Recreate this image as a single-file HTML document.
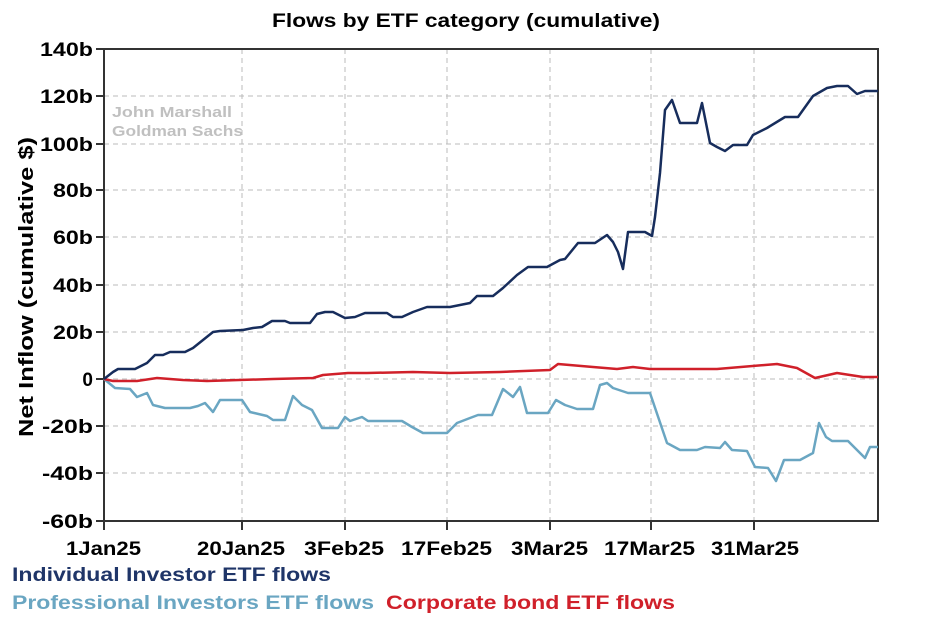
<!DOCTYPE html>
<html><head><meta charset="utf-8"><style>
body{margin:0;background:#fff;}
svg{display:block;font-family:"Liberation Sans",Arial,sans-serif;}
</style></head><body>
<svg width="934" height="623" viewBox="0 0 934 623">
<rect width="934" height="623" fill="#fff"/>
<text x="272" y="27" font-size="19" font-weight="bold" textLength="388" lengthAdjust="spacingAndGlyphs">Flows by ETF category (cumulative)</text>
<g stroke="#bbb" stroke-width="1" stroke-dasharray="5,4">
<line x1="104" x2="878" y1="96" y2="96"/><line x1="104" x2="878" y1="144" y2="144"/>
<line x1="104" x2="878" y1="190" y2="190"/><line x1="104" x2="878" y1="237" y2="237"/>
<line x1="104" x2="878" y1="285" y2="285"/><line x1="104" x2="878" y1="332" y2="332"/>
<line x1="104" x2="878" y1="379" y2="379"/><line x1="104" x2="878" y1="426" y2="426"/>
<line x1="104" x2="878" y1="473" y2="473"/>
<line x1="242" x2="242" y1="49" y2="521"/><line x1="345" x2="345" y1="49" y2="521"/>
<line x1="447" x2="447" y1="49" y2="521"/><line x1="550" x2="550" y1="49" y2="521"/>
<line x1="651" x2="651" y1="49" y2="521"/><line x1="754" x2="754" y1="49" y2="521"/>
</g>
<rect x="104" y="49" width="774" height="472" fill="none" stroke="#333" stroke-width="2"/>
<g stroke="#333" stroke-width="2">
<line x1="96" x2="104" y1="49" y2="49"/><line x1="96" x2="104" y1="96" y2="96"/><line x1="96" x2="104" y1="144" y2="144"/><line x1="96" x2="104" y1="190" y2="190"/><line x1="96" x2="104" y1="237" y2="237"/><line x1="96" x2="104" y1="285" y2="285"/><line x1="96" x2="104" y1="332" y2="332"/><line x1="96" x2="104" y1="379" y2="379"/><line x1="96" x2="104" y1="426" y2="426"/><line x1="96" x2="104" y1="473" y2="473"/><line x1="96" x2="104" y1="521" y2="521"/>
<line x1="104" x2="104" y1="521" y2="530"/><line x1="242" x2="242" y1="521" y2="530"/><line x1="345" x2="345" y1="521" y2="530"/><line x1="447" x2="447" y1="521" y2="530"/><line x1="550" x2="550" y1="521" y2="530"/><line x1="651" x2="651" y1="521" y2="530"/><line x1="754" x2="754" y1="521" y2="530"/>
</g>
<g font-size="19" font-weight="bold" text-anchor="end" lengthAdjust="spacingAndGlyphs">
<text x="93" y="56" textLength="53" lengthAdjust="spacingAndGlyphs">140b</text><text x="93" y="103" textLength="53" lengthAdjust="spacingAndGlyphs">120b</text><text x="93" y="151" textLength="53" lengthAdjust="spacingAndGlyphs">100b</text><text x="93" y="197" textLength="40" lengthAdjust="spacingAndGlyphs">80b</text><text x="93" y="244" textLength="40" lengthAdjust="spacingAndGlyphs">60b</text><text x="93" y="292" textLength="40" lengthAdjust="spacingAndGlyphs">40b</text><text x="93" y="339" textLength="40" lengthAdjust="spacingAndGlyphs">20b</text><text x="93" y="386">0</text><text x="93" y="433" textLength="51" lengthAdjust="spacingAndGlyphs">-20b</text><text x="93" y="480" textLength="51" lengthAdjust="spacingAndGlyphs">-40b</text><text x="93" y="528" textLength="51" lengthAdjust="spacingAndGlyphs">-60b</text>
</g>
<g font-size="19" font-weight="bold">
<text x="66" y="555" textLength="75" lengthAdjust="spacingAndGlyphs">1Jan25</text>
<text x="197" y="555" textLength="88" lengthAdjust="spacingAndGlyphs">20Jan25</text>
<text x="304" y="555" textLength="80" lengthAdjust="spacingAndGlyphs">3Feb25</text>
<text x="401" y="555" textLength="91" lengthAdjust="spacingAndGlyphs">17Feb25</text>
<text x="511" y="555" textLength="77" lengthAdjust="spacingAndGlyphs">3Mar25</text>
<text x="604" y="555" textLength="91" lengthAdjust="spacingAndGlyphs">17Mar25</text>
<text x="711" y="555" textLength="88" lengthAdjust="spacingAndGlyphs">31Mar25</text>
</g>
<text transform="translate(33,437) rotate(-90)" font-size="20" font-weight="bold" textLength="300" lengthAdjust="spacingAndGlyphs">Net Inflow (cumulative $)</text>
<g font-size="15" font-weight="bold" fill="#c0c0c0">
<text x="112" y="117" textLength="120" lengthAdjust="spacingAndGlyphs">John Marshall</text><text x="112" y="136" textLength="131" lengthAdjust="spacingAndGlyphs">Goldman Sachs</text>
</g>
<polyline fill="none" stroke="#6aa6c2" stroke-width="2.5" stroke-linejoin="round" points="104,379 115,388 130,389 137,397 147,393 153,405 165,408 190,408 198,406 205,403 213,412 220,400 242,400 250,412 267,416 273,420 285,420 293,396 302,405 312,410 322,428 338,428 345,417 350,421 362,417 368,421 402,421 412,427 423,433 447,433 450,430 457,423 470,418 478,415 492,415 503,389 513,397 520,387 527,413 548,413 556,400 565,405 577,409 593,409 600,385 607,383 613,388 628,393 650,393 667,443 680,450 697,450 705,447 720,448 725,442 732,450 747,451 755,467 768,468 776,481 784,460 800,460 813,453 819,423 826,437 832,441 848,441 865,458 870,447 878,447"/>
<polyline fill="none" stroke="#d0202a" stroke-width="2.5" stroke-linejoin="round" points="104,379 113,381 137,381 157,378 183,380 207,381 273,379 313,378 323,375 348,373 367,373 413,372 450,373 500,372 550,370 558,364 593,367 617,369 633,367 650,369 717,369 777,364 797,368 815,378 837,373 863,377 878,377"/>
<polyline fill="none" stroke="#172d5c" stroke-width="2.5" stroke-linejoin="round" points="104,379 113,372 118,369 135,369 147,363 155,355 163,355 170,352 185,352 193,348 203,340 213,332 220,331 243,330 253,328 262,327 272,321 285,321 290,323 310,323 317,314 325,312 333,312 345,318 355,317 365,313 387,313 393,317 402,317 413,312 427,307 450,307 470,303 477,296 493,296 503,288 517,275 528,267 547,267 560,260 565,259 578,243 595,243 607,235 613,242 618,252 623,269 628,232 645,232 652,236 655,217 660,173 665,110 672,100 680,123 697,123 702,103 710,143 717,147 725,151 733,145 747,145 753,135 767,128 785,117 798,117 813,96 827,88 837,86 848,86 857,94 865,91 878,91"/>
<g font-size="19" font-weight="bold">
<text x="12" y="581" fill="#1f3568" textLength="319" lengthAdjust="spacingAndGlyphs">Individual Investor ETF flows</text>
<text x="12" y="609" fill="#6aa6c2" textLength="362" lengthAdjust="spacingAndGlyphs">Professional Investors ETF flows</text>
<text x="386" y="609" fill="#d0202a" textLength="289" lengthAdjust="spacingAndGlyphs">Corporate bond ETF flows</text>
</g>
</svg>
</body></html>
